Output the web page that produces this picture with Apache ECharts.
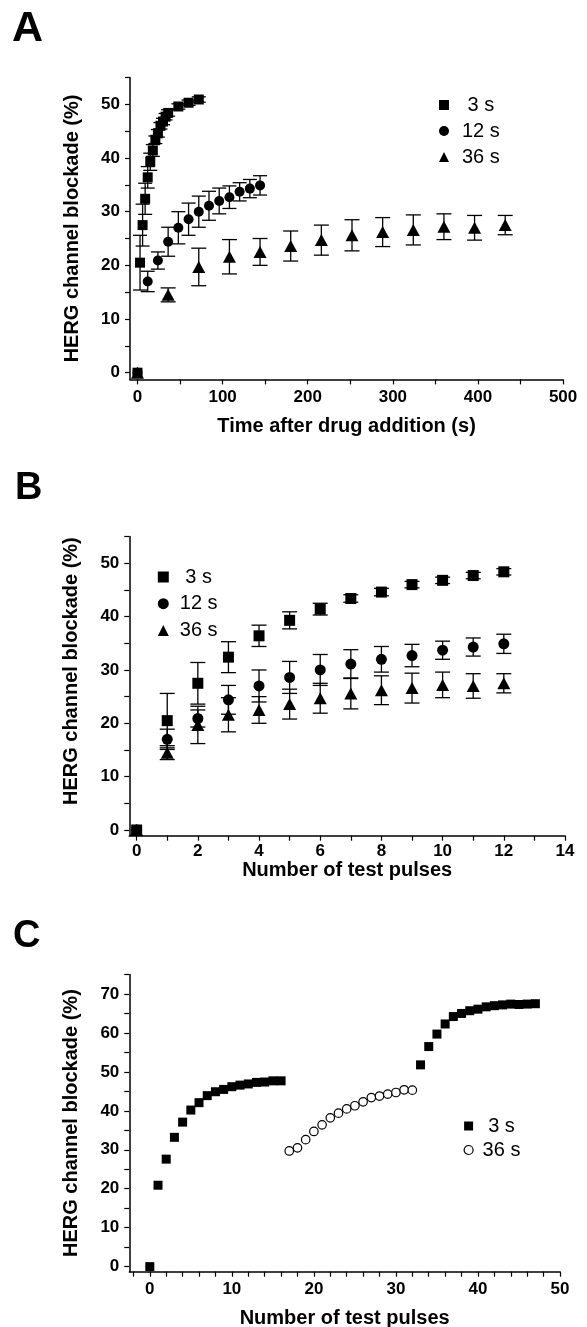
<!DOCTYPE html>
<html>
<head>
<meta charset="utf-8">
<script src="https://cdn.jsdelivr.net/npm/echarts@6/dist/echarts.min.js"></script>
<style>
html, body { margin: 0; padding: 0; background: #fff; }
#chart { width: 587px; height: 1327px; }
</style>
</head>
<body>
<div id="chart"></div>
<script>
// ---- panel A: blockade vs time after drug addition (s) ----
const timeA3s  = [0, 3, 6, 9, 12, 15, 18, 21, 24, 27, 30, 33, 36, 48, 60, 72];
const blkA3s   = [0, 20.5, 27.5, 32.4, 36.4, 39.3, 41.4, 43.4, 44.6, 46.0, 46.8, 47.7, 48.4, 49.6, 50.3, 50.9];
const errA3s   = [0, 5.1, 3.9, 2.9, 2.0, 1.6, 1.1, 0.7, 0.7, 0.6, 0.6, 0.6, 0.6, 0.5, 0.5, 0.5];
const timeA12s = [0, 12, 24, 36, 48, 60, 72, 84, 96, 108, 120, 132, 144];
const timeA36s = [0, 36, 72, 108, 144, 180, 216, 252, 288, 324, 360, 396, 432];

// ---- panel B: same experiment vs number of test pulses ----
const pulsesB = [0, 1, 2, 3, 4, 5, 6, 7, 8, 9, 10, 11, 12];
const blk3s   = [0, 20.5, 27.5, 32.4, 36.4, 39.3, 41.4, 43.4, 44.6, 46.0, 46.8, 47.7, 48.4];
const err3s   = [0, 5.1, 3.9, 2.9, 2.0, 1.6, 1.1, 0.7, 0.7, 0.6, 0.6, 0.6, 0.6];
const blk12s  = [0, 17.0, 20.9, 24.4, 27.0, 28.6, 30.0, 31.1, 32.0, 32.7, 33.7, 34.3, 34.9];
const err12s  = [0, 1.9, 1.6, 2.7, 3.0, 3.0, 2.9, 2.7, 2.4, 2.1, 1.7, 1.7, 1.8];
const blk36s  = [0, 14.5, 19.7, 21.6, 22.5, 23.6, 24.7, 25.6, 26.2, 26.6, 27.2, 27.0, 27.5];
const err36s  = [0, 1.3, 3.5, 3.2, 2.5, 2.8, 2.8, 2.9, 2.7, 2.8, 2.4, 2.3, 1.8];

// ---- panel C: 3 s -> 36 s -> 3 s protocol ----
const pulsesC3s = [0, 1, 2, 3, 4, 5, 6, 7, 8, 9, 10, 11, 12, 13, 14, 15, 16,
                   33, 34, 35, 36, 37, 38, 39, 40, 41, 42, 43, 44, 45, 46, 47];
const blkC3s    = [0, 20.9, 27.6, 33.2, 37.1, 40.2, 42.1, 43.9, 44.9, 45.5, 46.2, 46.6, 46.9, 47.3, 47.4, 47.7, 47.7,
                   51.8, 56.5, 59.7, 62.3, 64.2, 65.0, 65.7, 66.1, 66.7, 67.0, 67.2, 67.4, 67.3, 67.4, 67.5];
const pulsesC36s = [17, 18, 19, 20, 21, 22, 23, 24, 25, 26, 27, 28, 29, 30, 31, 32];
const blkC36s    = [29.7, 30.5, 32.6, 34.7, 36.4, 38.2, 39.4, 40.5, 41.3, 42.3, 43.4, 43.8, 44.3, 44.7, 45.4, 45.3];

// ---- tick labels / tick marks ----
const labelsAx = [0, 100, 200, 300, 400, 500];
const ticksAx  = [0, 50, 100, 150, 200, 250, 300, 350, 400, 450, 500];
const labelsBx = [0, 2, 4, 6, 8, 10, 12, 14];
const ticksBx  = [0, 1, 2, 3, 4, 5, 6, 7, 8, 9, 10, 11, 12, 13, 14];
const labelsCx = [0, 10, 20, 30, 40, 50];
const ticksCx  = [-2, 0, 2, 4, 6, 8, 10, 12, 14, 16, 18, 20, 22, 24, 26, 28, 30, 32, 34, 36, 38, 40, 42, 44, 46, 48, 50];
const labelsABy = [0, 10, 20, 30, 40, 50];
const ticksABy  = [0, 5, 10, 15, 20, 25, 30, 35, 40, 45, 50, 55];
const labelsCy  = [0, 10, 20, 30, 40, 50, 60, 70];
const ticksCy   = [0, 5, 10, 15, 20, 25, 30, 35, 40, 45, 50, 55, 60, 65, 70, 75];

const FONT = '"Liberation Sans", Arial, Helvetica, sans-serif';
const yTitle = 'HERG channel blockade (%)';

function pts(xs, ys) {
    return xs.map((x, i) => [x, ys[i]]);
}
function bars(xs, ys, es) {
    const out = [];
    xs.forEach((x, i) => {
        if (es[i] > 0) out.push([x, ys[i] - es[i], ys[i] + es[i]]);
    });
    return out;
}

// error bar with caps
function errorBar(hw) {
    return function (params, api) {
        const x = api.value(0);
        const lo = api.coord([x, api.value(1)]);
        const hi = api.coord([x, api.value(2)]);
        const st = { stroke: '#000', lineWidth: 1.3 };
        return {
            type: 'group',
            children: [
                { type: 'line', shape: { x1: lo[0], y1: lo[1], x2: hi[0], y2: hi[1] }, style: st },
                { type: 'line', shape: { x1: hi[0] - hw, y1: hi[1], x2: hi[0] + hw, y2: hi[1] }, style: st },
                { type: 'line', shape: { x1: lo[0] - hw, y1: lo[1], x2: lo[0] + hw, y2: lo[1] }, style: st }
            ]
        };
    };
}

function xAx(gridIndex, min, max, labels, ticks, name, nameGap, margin) {
    return {
        type: 'value', gridIndex, min, max,
        name, nameLocation: 'middle', nameGap,
        nameTextStyle: { fontFamily: FONT, fontWeight: 'bold', fontSize: 20, color: '#000' },
        axisLine: { show: true, onZero: false, lineStyle: { color: '#000', width: 1.5 } },
        axisTick: { show: true, length: 5, customValues: ticks, lineStyle: { color: '#000', width: 1.2 } },
        axisLabel: { customValues: labels, margin, fontFamily: FONT, fontWeight: 'bold', fontSize: 17, color: '#000' },
        splitLine: { show: false }
    };
}

function yAx(gridIndex, min, max, labels, ticks, padding) {
    return {
        type: 'value', gridIndex, min, max,
        name: yTitle, nameLocation: 'middle', nameGap: 48,
        nameTextStyle: { fontFamily: FONT, fontWeight: 'bold', fontSize: 20, color: '#000', padding: padding || 0 },
        axisLine: { show: true, onZero: false, lineStyle: { color: '#000', width: 1.5 } },
        axisTick: { show: true, length: 5, customValues: ticks, lineStyle: { color: '#000', width: 1.2 } },
        axisLabel: { customValues: labels, margin: 10, fontFamily: FONT, fontWeight: 'bold', fontSize: 17, color: '#000' },
        splitLine: { show: false }
    };
}

function errSeries(idx, data, hw) {
    return {
        type: 'custom', xAxisIndex: idx, yAxisIndex: idx,
        data, renderItem: errorBar(hw), silent: true, z: 1,
        encode: { x: 0, y: [1, 2] }
    };
}

function dotSeries(idx, name, data, symbol, size, itemStyle) {
    return {
        type: 'scatter', name, xAxisIndex: idx, yAxisIndex: idx,
        data, symbol, symbolSize: size, z: 2,
        itemStyle: itemStyle || { color: '#000', opacity: 1 }
    };
}

const solid = { color: '#000', borderColor: '#000', borderWidth: 0, opacity: 1 };
const legendFmt = name => (name === '3 s' ? ' 3 s' : name);
function legendText(padLeft) {
    return { fontFamily: FONT, fontSize: 20, color: '#000', lineHeight: 20, padding: [0, 0, 0, padLeft] };
}
function letter(text, x, y, size) {
    return {
        type: 'text', x, y,
        style: { text, fontFamily: FONT, fontWeight: 'bold', fontSize: size, fill: '#000',
                 textAlign: 'left', textVerticalAlign: 'middle', align: 'left', verticalAlign: 'middle' }
    };
}

const chart = echarts.init(document.getElementById('chart'), null, { renderer: 'canvas' });

chart.setOption({
    animation: false,
    backgroundColor: '#fff',
    grid: [
        { left: 130, top: 77.5, width: 433.1, height: 301.9, outerBoundsMode: 'none' },
        { left: 129.3, top: 536.6, width: 435.7, height: 299.1, outerBoundsMode: 'none' },
        { left: 129.3, top: 974.5, width: 430.7, height: 297.2, outerBoundsMode: 'none' }
    ],
    xAxis: [
        xAx(0, -8.8, 500, labelsAx, ticksAx, 'Time after drug addition (s)', 37, 9),
        xAx(1, -0.24, 14, labelsBx, ticksBx, 'Number of test pulses', 24, 7),
        xAx(2, -2.5, 50, labelsCx, ticksCx, 'Number of test pulses', 37, 9)
    ],
    yAxis: [
        yAx(0, -1.25, 55, labelsABy, ticksABy),
        yAx(1, -1.07, 55, labelsABy, ticksABy, [0, 0, 0, 30]),
        yAx(2, -1.3, 75, labelsCy, ticksCy)
    ],
    legend: [
        {
            left: 434, top: 90, orient: 'vertical', itemWidth: 10, itemHeight: 10, itemGap: 6,
            selectedMode: false, textStyle: legendText(8), formatter: legendFmt,
            data: [
                { name: '3 s', icon: 'rect', itemStyle: solid },
                { name: '12 s', icon: 'circle', itemStyle: solid },
                { name: '36 s', icon: 'triangle', itemStyle: solid }
            ]
        },
        {
            left: 152.8, top: 562, orient: 'vertical', itemWidth: 11, itemHeight: 11, itemGap: 6.7,
            selectedMode: false, textStyle: legendText(6), formatter: legendFmt,
            data: [
                { name: '3 s', icon: 'rect', itemStyle: solid },
                { name: '12 s', icon: 'circle', itemStyle: solid },
                { name: '36 s', icon: 'triangle', itemStyle: solid }
            ]
        },
        {
            left: 458.5, top: 1111, orient: 'vertical', itemWidth: 9, itemHeight: 9, itemGap: 4,
            selectedMode: false, textStyle: legendText(4.5), formatter: legendFmt,
            data: [
                { name: '3 s', icon: 'rect', itemStyle: solid },
                { name: '36 s', icon: 'circle', itemStyle: { color: '#fff', borderColor: '#000', borderWidth: 1.2, opacity: 1 } }
            ]
        }
    ],
    graphic: [
        letter('A', 12, 29, 43),
        letter('B', 15, 488.5, 38),
        letter('C', 13, 936.5, 38)
    ],
    series: [
        // panel A
        errSeries(0, bars(timeA3s, blkA3s, errA3s), 7),
        errSeries(0, bars(timeA12s, blk12s, err12s), 7),
        errSeries(0, bars(timeA36s, blk36s, err36s), 7.5),
        dotSeries(0, '3 s', pts(timeA3s, blkA3s), 'rect', 10),
        dotSeries(0, '12 s', pts(timeA12s, blk12s), 'circle', 10),
        dotSeries(0, '36 s', pts(timeA36s, blk36s), 'triangle', [13, 12]),
        // panel B
        errSeries(1, bars(pulsesB, blk3s, err3s), 7.5),
        errSeries(1, bars(pulsesB, blk12s, err12s), 7.5),
        errSeries(1, bars(pulsesB, blk36s, err36s), 7.5),
        dotSeries(1, '3 s', pts(pulsesB, blk3s), 'rect', 11),
        dotSeries(1, '12 s', pts(pulsesB, blk12s), 'circle', 11),
        dotSeries(1, '36 s', pts(pulsesB, blk36s), 'triangle', [13, 12]),
        // panel C
        dotSeries(2, '3 s', pts(pulsesC3s, blkC3s), 'rect', 9),
        dotSeries(2, '36 s', pts(pulsesC36s, blkC36s), 'circle', 8.5,
            { color: '#fff', borderColor: '#000', borderWidth: 1.2, opacity: 1 })
    ]
});
</script>
</body>
</html>
